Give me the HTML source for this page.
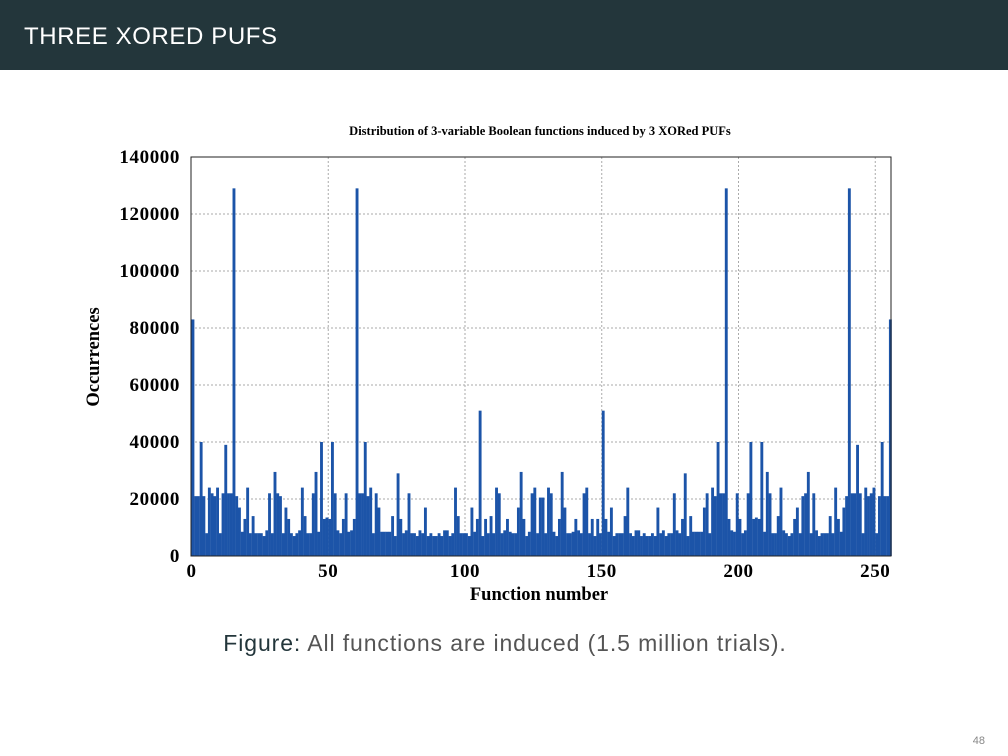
<!DOCTYPE html>
<html><head><meta charset="utf-8"><style>
body{margin:0;width:1008px;height:756px;overflow:hidden;background:#fff;font-family:"Liberation Sans",sans-serif}
svg{display:block}
</style></head><body>
<svg id="chart" width="1008" height="756" viewBox="0 0 1008 756">
<rect x="0" y="0" width="1008" height="70" fill="#23363b"/>
<text x="24" y="44" fill="#fff" font-size="24" letter-spacing="0.6" font-family="Liberation Sans, sans-serif">THREE XORED PUFS</text>
<text x="540" y="135" text-anchor="middle" font-family="Liberation Serif, serif" font-weight="bold" font-size="12.5">Distribution of 3-variable Boolean functions induced by 3 XORed PUFs</text>
<g id="grid"></g>
<g id="bars"></g>
<rect x="191" y="157" width="700" height="399" fill="none" stroke="#222" stroke-width="1"/>
<g id="yticks" font-family="Liberation Serif, serif" font-weight="bold" font-size="19" letter-spacing="0.6" text-anchor="end"></g>
<g id="xticks" font-family="Liberation Serif, serif" font-weight="bold" font-size="19" letter-spacing="0.6" text-anchor="middle"></g>
<text x="539" y="600" text-anchor="middle" font-family="Liberation Serif, serif" font-weight="bold" font-size="18.5">Function number</text>
<text transform="translate(99,357) rotate(-90)" text-anchor="middle" font-family="Liberation Serif, serif" font-weight="bold" font-size="18.5">Occurrences</text>
<text x="505" y="651" text-anchor="middle" font-size="23" letter-spacing="0.9" fill="#555" font-family="Liberation Sans, sans-serif"><tspan fill="#23363b">Figure:</tspan> All functions are induced (1.5 million trials).</text>
<text x="985" y="744" text-anchor="end" font-size="11" fill="#888">48</text>
</svg>
<script>
const values = [83000,21000,21000,40000,21000,8000,24000,22000,21000,24000,8000,22000,39000,22000,22000,129000,
21000,17000,8500,13000,24000,8000,14000,8000,8000,8000,7000,9000,22000,8000,29500,22000,
21000,8000,17000,13000,8000,7000,8000,9000,24000,14000,8000,8000,22000,29500,8500,40000,
13000,13500,13000,40000,22000,9000,8000,13000,22000,8500,9000,13000,129000,22000,22000,40000,
21000,24000,8000,22000,17000,8500,8500,8500,8500,14000,7000,29000,13000,8000,9000,22000,
8000,8000,7000,9000,8000,17000,7000,8000,7000,7000,8000,7000,9000,9000,7000,8000,
24000,14000,8000,8000,8000,7000,17000,8500,13000,51000,7000,13000,8000,14000,8000,24000,
22000,8000,9000,13000,8500,8000,8000,17000,29500,13000,7000,8500,22000,24000,8000,20500,
20500,8000,24000,22000,8500,7000,13000,29500,17000,8000,8000,8500,13000,9000,8000,22000,
24000,8000,13000,7000,13000,8000,51000,13000,8500,17000,7000,8000,8000,8000,14000,24000,
8000,7000,9000,9000,7000,8000,7000,7000,8000,7000,17000,8000,9000,7000,8000,8000,
22000,9000,8000,13000,29000,7000,14000,8500,8500,8500,8500,17000,22000,8000,24000,21000,
40000,22000,22000,129000,13000,9000,8500,22000,13000,8000,9000,22000,40000,13000,13500,13000,
40000,8500,29500,22000,8000,8000,14000,24000,9000,8000,7000,8000,13000,17000,8000,21000,
22000,29500,8000,22000,9000,7000,8000,8000,8000,14000,8000,24000,13000,8500,17000,21000,
129000,22000,22000,39000,22000,8000,24000,21000,22000,24000,8000,21000,40000,21000,21000,83000];
const yTickValues = [0,20000,40000,60000,80000,100000,120000,140000];
const xTickValues = [0,50,100,150,200,250];
const NS="http://www.w3.org/2000/svg";
const X0=191.5, UNIT=2.735, Y0=556, YMAX=140000, YH=399;
function xs(v){return X0+v*UNIT;}
function ys(v){return Y0-v/YMAX*YH;}
const bars=document.getElementById('bars'), grid=document.getElementById('grid');
values.forEach((v,i)=>{
  const r=document.createElementNS(NS,'rect');
  r.setAttribute('x',xs(i)); r.setAttribute('width',UNIT+0.15);
  r.setAttribute('y',ys(v)); r.setAttribute('height',Y0-ys(v));
  r.setAttribute('fill','#1c54a8');
  
  
  bars.appendChild(r);
});
const yt=document.getElementById('yticks');
yTickValues.forEach(v=>{
  const y=ys(v);
  if(v>0&&v<YMAX){const l=document.createElementNS(NS,'line');
    l.setAttribute('x1',191);l.setAttribute('x2',891);l.setAttribute('y1',y);l.setAttribute('y2',y);
    l.setAttribute('stroke','#aaa');l.setAttribute('stroke-dasharray','2,2');
    
    
    grid.appendChild(l);}
  const t=document.createElementNS(NS,'text');
  t.setAttribute('x',180);t.setAttribute('y',y+6);t.textContent=v;
  
  
  yt.appendChild(t);
});
const xt=document.getElementById('xticks');
xTickValues.forEach(v=>{
  const x=xs(v);
  if(v>0){const l=document.createElementNS(NS,'line');
    l.setAttribute('x1',x);l.setAttribute('x2',x);l.setAttribute('y1',157);l.setAttribute('y2',556);
    l.setAttribute('stroke','#aaa');l.setAttribute('stroke-dasharray','2,2');
    
    
    grid.appendChild(l);}
  const t=document.createElementNS(NS,'text');
  t.setAttribute('x',x);t.setAttribute('y',577);t.textContent=v;
  
  
  xt.appendChild(t);
});
</script>
</body></html>
